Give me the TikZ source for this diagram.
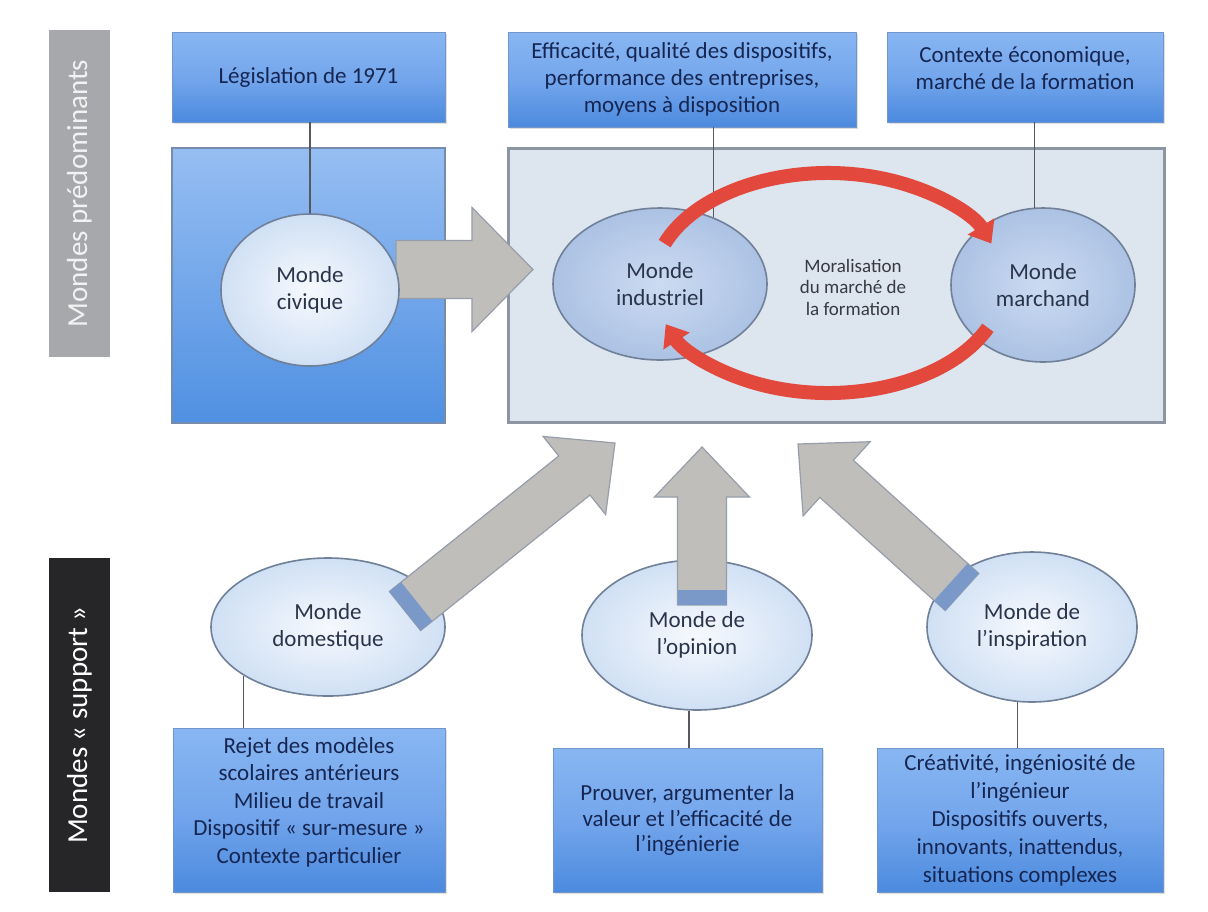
\documentclass[tikz,border=0pt]{standalone}
\usepackage{fontspec}
\setmainfont{Carlito}
\usetikzlibrary{shapes.geometric,arrows.meta,calc,shadows}

\definecolor{boxtop}{RGB}{136,182,242}
\definecolor{boxmid}{RGB}{116,166,236}
\definecolor{boxbot}{RGB}{76,138,222}
\definecolor{boxline}{RGB}{112,150,204}
\definecolor{txtblue}{RGB}{22,38,82}
\definecolor{civtop}{RGB}{150,190,242}
\definecolor{civbot}{RGB}{80,144,226}
\definecolor{civline}{RGB}{118,140,172}
\definecolor{panelfill}{RGB}{221,229,239}
\definecolor{panelline}{RGB}{140,150,162}
\definecolor{ellline}{RGB}{112,128,152}
\definecolor{elltext}{RGB}{42,52,74}
\definecolor{arrowfill}{RGB}{192,190,187}
\definecolor{arrowline}{RGB}{150,158,170}
\definecolor{bandblue}{RGB}{122,152,200}
\definecolor{loopred}{RGB}{226,72,60}
\definecolor{labelgray}{RGB}{166,168,172}
\definecolor{labeldark}{RGB}{38,38,40}
\definecolor{wiregray}{RGB}{85,88,95}
\definecolor{moralgray}{RGB}{55,58,66}

% wide block arrow: #1 name prefix, #2 tail, #3 tip,
% #4 half shaft width, #5 half head width, #6 head length
\newcommand{\fatarrow}[6]{%
  \coordinate (#1-b) at ($(#3)!#6!(#2)$);
  \draw[arrowbody] ($(#2)!#4!90:(#3)$) -- ($(#1-b)!#4!90:(#3)$)
    -- ($(#1-b)!#5!90:(#3)$) -- (#3) -- ($(#1-b)!#5!-90:(#3)$)
    -- ($(#1-b)!#4!-90:(#3)$) -- ($(#2)!#4!-90:(#3)$) -- cycle;
}
% blue band at the foot of a block arrow
\newcommand{\arrowfoot}[4]{%
  \coordinate (#1-f) at ($(#2)!7.5pt!(#3)$);
  \fill[bandblue] ($(#2)!#4!90:(#3)$) -- ($(#1-f)!#4!90:(#3)$)
    -- ($(#1-f)!#4!-90:(#3)$) -- ($(#2)!#4!-90:(#3)$) -- cycle;
}

\begin{document}
\begin{tikzpicture}[x=0.5pt,y=-0.5pt,
  textbox/.style={draw=boxline, line width=0.4pt, top color=boxtop,
    bottom color=boxbot, middle color=boxmid, inner sep=0pt,
    align=center, text=txtblue, font=\fontsize{11.5}{13.5}\selectfont,
    drop shadow={shadow xshift=1pt, shadow yshift=-1.2pt, opacity=0.25}},
  boxlabel/.style={align=center, text=txtblue, inner sep=0pt,
    font=\fontsize{11.5}{13.5}\selectfont},
  sidelabel/.style={rotate=90, inner sep=0pt, font=\fontsize{14.5}{16}\selectfont},
  civpanel/.style={draw=civline, line width=0.8pt, top color=civtop,
    bottom color=civbot, inner sep=0pt},
  panel/.style={draw=panelline, line width=1.5pt, fill=panelfill, inner sep=0pt},
  world/.style={ellipse, draw=ellline, line width=0.8pt, inner sep=0pt,
    align=center, text=elltext, font=\fontsize{11.5}{13.5}\selectfont},
  paleworld/.style={world, inner color={rgb,255:red,246;green,249;blue,254},
    outer color={rgb,255:red,208;green,224;blue,244}},
  midworld/.style={world, inner color={rgb,255:red,204;green,219;blue,241},
    outer color={rgb,255:red,172;green,194;blue,228}},
  wire/.style={draw=wiregray, line width=0.6pt},
  arrowbody/.style={fill=arrowfill, draw=arrowline, line width=0.6pt},
  loop/.style={draw=loopred, line width=7pt, -{Triangle[width=15pt,length=10pt]}}
]
\useasboundingbox (0,0) rectangle (1208,911);
\fill[white] (0,0) rectangle (1208,911);

% side captions
\node[sidelabel, fill=labelgray, text={rgb,255:red,242;green,242;blue,242},
  minimum width=163.5pt, minimum height=30.5pt] (lab1) at (79.5,193.5) {Mondes prédominants};
\node[sidelabel, fill=labeldark, text=white,
  minimum width=167pt, minimum height=30.5pt] (lab2) at (79.5,725) {Mondes «~support~»};

% upper text boxes
\node[textbox, minimum width=136.5pt, minimum height=45pt] (leg) at (308.5,77) {Législation de 1971};
\node[textbox, minimum width=174pt, minimum height=47.5pt] (eff) at (682,79.5)
  {Efficacité, qualité des dispositifs,\\performance des entreprises,\\moyens à disposition};
\node[textbox, minimum width=138pt, minimum height=45pt,
  label={[boxlabel, yshift=4.5pt]center:{Contexte économique,\\marché de la formation}}] (eco) at (1025,77) {};

% lower text boxes
\node[textbox, minimum width=136pt, minimum height=82pt,
  label={[boxlabel, yshift=4pt, font=\fontsize{11.5}{13.75}\selectfont]center:{Rejet des modèles\\scolaires antérieurs\\Milieu de travail\\Dispositif «~sur-mesure~»\\Contexte particulier}}] (rej) at (309,810) {};
\node[textbox, minimum width=134.5pt, minimum height=72pt, font=\fontsize{11.5}{12.75}\selectfont] (prv) at (687.5,820)
  {Prouver, argumenter la\\valeur et l’efficacité de\\l’ingénierie};
\node[textbox, minimum width=143pt, minimum height=72pt, font=\fontsize{11.5}{14}\selectfont] (cre) at (1020,820)
  {Créativité, ingéniosité de\\l’ingénieur\\Dispositifs ouverts,\\innovants, inattendus,\\situations complexes};

% panels
\node[civpanel, minimum width=136.5pt, minimum height=137.5pt] (civpan) at (308.5,285.5) {};
\node[panel, minimum width=328pt, minimum height=137pt] (cenpan) at (836,285) {};

% civic arrow (its foot hides under the civic ellipse)
\coordinate (a0t) at (396,269.5);
\coordinate (a0h) at (533,269.5);
\fatarrow{a0}{a0t}{a0h}{14.5pt}{31pt}{30.5pt}

% worlds
\node[paleworld, minimum width=89pt, minimum height=76pt] (civ) at (310,290) {Monde\\civique};
\node[midworld, minimum width=107pt, minimum height=76pt] (ind) at (660,284) {Monde\\industriel};
\node[midworld, minimum width=92pt, minimum height=77pt] (mar) at (1043,285) {Monde\\marchand};
\node[paleworld, minimum width=117pt, minimum height=69pt] (dom) at (328,627) {Monde\\domestique};
\node[paleworld, minimum width=115pt, minimum height=75pt] (opi) at (697,635) {Monde de\\l’opinion};
\node[paleworld, minimum width=105pt, minimum height=75pt] (ins) at (1032,627) {Monde de\\l’inspiration};

% links between boxes and worlds
\draw[wire] (leg.south -| civ.north) -- (civ.north);
\draw[wire] (ind.51) -- (ind.51 |- eff.south);
\draw[wire] (mar.96) -- (mar.96 |- eco.south);
\draw[wire] (dom.210) -- (dom.210 |- rej.north);
\draw[wire] (opi.264) -- (opi.264 |- prv.north);
\draw[wire] (ins.259) -- (ins.259 |- cre.north);

% supporting arrows towards the central panel
\coordinate (a1t) at (405,611);
\coordinate (a1h) at (615,443);
\coordinate (a2t) at (702,605);
\coordinate (a2h) at (702,447);
\coordinate (a3t) at (962,592);
\coordinate (a3h) at (798,444);
\fatarrow{a1}{a1t}{a1h}{12.5pt}{25pt}{26pt}
\fatarrow{a2}{a2t}{a2h}{12.25pt}{23.75pt}{25pt}
\fatarrow{a3}{a3t}{a3h}{12.5pt}{25pt}{26pt}
\arrowfoot{a1}{a1t}{a1h}{12.5pt}
\arrowfoot{a2}{a2t}{a2h}{12.25pt}
\arrowfoot{a3}{a3t}{a3h}{12.5pt}

% exchange loop between the industrial and market worlds
\coordinate (lc) at (828,283);
\draw[loop] ($(lc)+(201:175 and 110)$) arc[start angle=201, end angle=339, x radius=175, y radius=110];
\draw[loop] ($(lc)+(24:175 and 110)$) arc[start angle=24, end angle=158, x radius=175, y radius=110];

\node[align=center, text=moralgray, inner sep=0pt,
  font=\fontsize{9.5}{10.75}\selectfont] (mor) at (853,287) {Moralisation\\du marché de\\la formation};
\end{tikzpicture}
\end{document}
